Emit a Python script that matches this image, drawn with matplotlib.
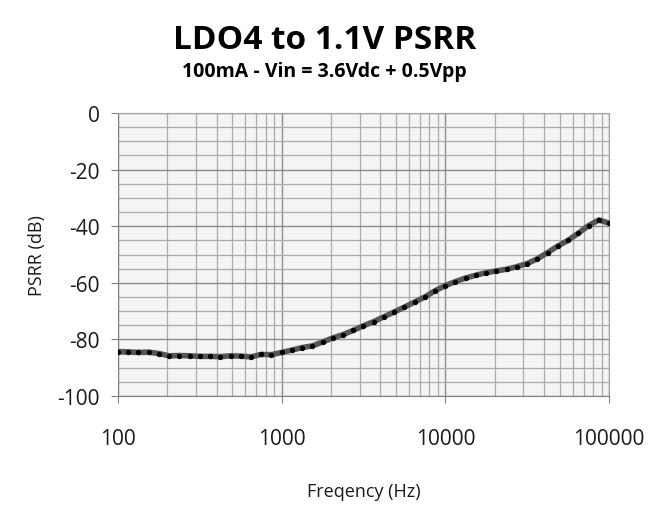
import matplotlib
matplotlib.use('Agg')
import matplotlib.pyplot as plt
from matplotlib.ticker import LogLocator, MultipleLocator, FixedLocator, NullFormatter

plt.rcParams['font.family'] = ['Open Sans', 'DejaVu Sans']
plt.rcParams['axes.unicode_minus'] = False

# measured points (Hz, dB)
freq = [100, 115, 133, 154, 178, 205, 237, 274, 316, 365, 422, 487, 562, 649, 750, 866,
        1000, 1150, 1330, 1540, 1780, 2050, 2370, 2740, 3160, 3650, 4220, 4870, 5620, 6490, 7500, 8660,
        10000, 11500, 13300, 15400, 17800, 20500, 23700, 27400, 31600, 36500, 42200, 48700, 56200, 64900,
        75000, 86600, 100000]
psrr = [-84.3, -84.4, -84.6, -84.5, -85.0, -85.8, -85.7, -85.8, -86.0, -86.0, -86.1, -85.8, -85.9, -86.2, -85.3, -85.4,
        -84.6, -83.8, -82.9, -82.3, -80.9, -79.5, -78.3, -76.8, -75.2, -73.7, -72.0, -70.3, -68.6, -66.8, -65.0, -62.8,
        -61.0, -59.6, -58.3, -57.3, -56.4, -55.8, -55.2, -54.3, -53.2, -51.5, -49.3, -47.0, -45.0, -42.5,
        -39.8, -37.8, -38.9]

x_ticks = [100, 1000, 10000, 100000]
y_ticks = [0, -20, -40, -60, -80, -100]

fig = plt.figure(figsize=(6.49, 5.06), dpi=100)
ax = fig.add_axes([0.1818, 0.2154, 0.7566, 0.5593])
ax.set_facecolor('#f4f4f4')

ax.plot(freq, psrr, color='#555555', linewidth=4, zorder=3)
ax.plot(freq, psrr, linestyle='none', marker='o', markersize=2.8, color='black', zorder=4)

ax.set_xscale('log')
ax.set_xlim(100, 100000)
ax.set_ylim(-100, 0)
ax.xaxis.set_major_locator(FixedLocator(x_ticks))
ax.set_xticklabels([str(v) for v in x_ticks])
ax.xaxis.set_minor_locator(LogLocator(base=10, subs=range(2, 10)))
ax.xaxis.set_minor_formatter(NullFormatter())
ax.yaxis.set_major_locator(FixedLocator(y_ticks))
ax.set_yticklabels([str(v) for v in y_ticks])
ax.yaxis.set_minor_locator(MultipleLocator(5))

ax.grid(which='major', color='#8c8c8c', linewidth=1.0)
ax.grid(which='minor', color='#ababab', linewidth=0.9)
ax.set_axisbelow(True)

for s in ax.spines.values():
    s.set_color('#a0a0a0')
ax.spines['left'].set_color('#808080')
ax.spines['bottom'].set_color('#808080')

ax.tick_params(axis='both', which='major', labelsize=15, color='#808080', length=5, labelcolor='#1a1a1a')
ax.tick_params(axis='x', which='minor', length=0)
ax.tick_params(axis='y', which='minor', length=0)
ax.tick_params(axis='x', which='major', pad=18)
ax.tick_params(axis='y', which='major', pad=8)

ax.set_xlabel('Freqency (Hz)', fontsize=13, labelpad=24, color='#1a1a1a')
ax.set_ylabel('PSRR (dB)', fontsize=13, labelpad=8, color='#1a1a1a')

fig.text(0.5, 0.92, 'LDO4 to 1.1V PSRR', ha='center', va='center', fontsize=24, fontweight='bold')
fig.text(0.5, 0.857, '100mA - Vin = 3.6Vdc + 0.5Vpp', ha='center', va='center', fontsize=14, fontweight='bold')

fig.savefig('out.png', dpi=100)
